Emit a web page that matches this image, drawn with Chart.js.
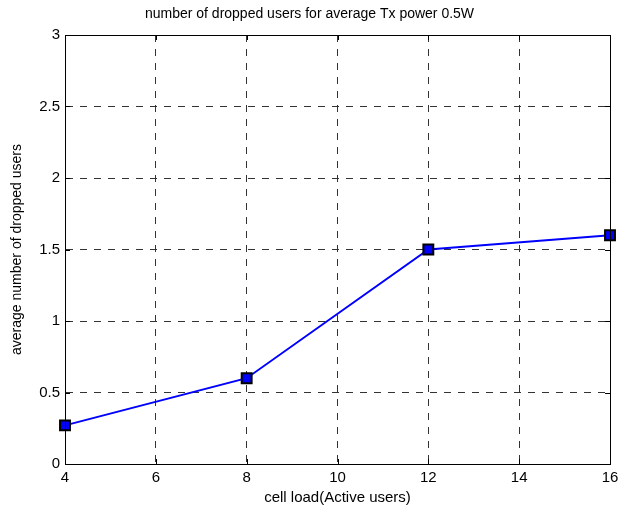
<!DOCTYPE html>
<html>
<head>
<meta charset="utf-8">
<script src="https://cdn.jsdelivr.net/npm/chart.js@4/dist/chart.umd.min.js"></script>
<style>
html,body{margin:0;padding:0;background:#fff;}
#wrap{width:619px;height:511px;}
</style>
</head>
<body>
<div id="wrap"><canvas id="c" width="619" height="511"></canvas></div>
<script>
const cellLoad = [4, 8, 12, 16];
const droppedUsers = [0.27, 0.6, 1.5, 1.6];
const xTicks = [4, 6, 8, 10, 12, 14, 16];
const yTicks = [0, 0.5, 1, 1.5, 2, 2.5, 3];
const titleText = 'number of dropped users for average Tx power 0.5W';
const xTitle = 'cell load(Active users)';
const yTitle = 'average number of dropped users';

const FONT = 'Liberation Sans, Arial, sans-serif';

const boxPlugin = {
  id: 'box',
  afterDatasetsDraw(chart) {
    const {ctx, chartArea: a, scales: {x, y}} = chart;
    ctx.save();
    ctx.strokeStyle = '#000';
    ctx.lineWidth = 1;
    ctx.setLineDash([]);
    const L = 5;
    ctx.beginPath();
    xTicks.forEach(v => {
      const px = Math.round(x.getPixelForValue(v)) + 0.5;
      ctx.moveTo(px, a.bottom); ctx.lineTo(px, a.bottom - L);
      ctx.moveTo(px, a.top); ctx.lineTo(px, a.top + L);
    });
    yTicks.forEach(v => {
      const py = Math.round(y.getPixelForValue(v)) + 0.5;
      ctx.moveTo(a.left, py); ctx.lineTo(a.left + L, py);
      ctx.moveTo(a.right, py); ctx.lineTo(a.right - L, py);
    });
    ctx.stroke();
    ctx.strokeRect(Math.round(a.left) + 0.5, Math.round(a.top) + 0.5,
      Math.round(a.right - a.left), Math.round(a.bottom - a.top));
    ctx.restore();
  }
};

new Chart(document.getElementById('c'), {
  type: 'line',
  data: {
    datasets: [{
      data: cellLoad.map((v, i) => ({x: v, y: droppedUsers[i]})),
      borderColor: '#0000ff',
      borderWidth: 2,
      backgroundColor: '#0000ff',
      pointStyle: 'rect',
      pointRadius: 7,
      pointHoverRadius: 7,
      pointBackgroundColor: '#0000ff',
      pointBorderColor: '#000',
      pointBorderWidth: 2,
      tension: 0,
      clip: false
    }]
  },
  options: {
    responsive: false,
    animation: false,
    layout: {padding: {left: 0, right: 0, top: 0, bottom: 0}},
    plugins: {
      legend: {display: false},
      tooltip: {enabled: false},
      title: {
        display: true,
        text: titleText,
        color: '#000',
        font: {family: FONT, size: 14, weight: 'normal'},
        padding: {top: 6, bottom: 12.2}
      }
    },
    scales: {
      x: {
        type: 'linear',
        min: 4, max: 16,
        afterBuildTicks: s => { s.ticks = xTicks.map(v => ({value: v})); },
        afterFit: s => { s.height = 47; s.paddingRight = 8; s.paddingLeft = 0; },
        ticks: {color: '#000', font: {family: FONT, size: 15}, padding: 5, maxRotation: 0,
                callback: v => String(v)},
        grid: {color: '#333', lineWidth: 1, drawTicks: false},
        border: {display: true, color: '#000', width: 1, dash: [7, 7]},
        title: {display: true, text: xTitle, color: '#000', font: {family: FONT, size: 15}, padding: {top: 0, bottom: 4}}
      },
      y: {
        type: 'linear',
        min: 0, max: 3,
        afterBuildTicks: s => { s.ticks = yTicks.map(v => ({value: v})); },
        afterFit: s => { s.width = 65; s.paddingTop = 0; s.paddingBottom = 0; },
        ticks: {color: '#000', font: {family: FONT, size: 15}, padding: 5,
                callback: v => String(v)},
        grid: {color: '#333', lineWidth: 1, drawTicks: false},
        border: {display: true, color: '#000', width: 1, dash: [7, 7]},
        title: {display: true, text: yTitle, color: '#000', font: {family: FONT, size: 14}, padding: {top: 9, bottom: 0}}
      }
    }
  },
  plugins: [boxPlugin]
});
</script>
</body>
</html>
